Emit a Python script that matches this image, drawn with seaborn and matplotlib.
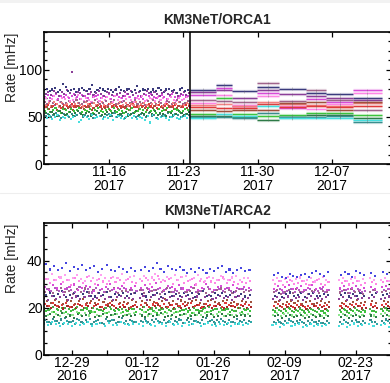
import numpy as np
import pandas as pd
import matplotlib
matplotlib.use("Agg")
import matplotlib.pyplot as plt
import matplotlib.dates as mdates
from matplotlib.ticker import FixedLocator, MultipleLocator
from matplotlib.patches import Rectangle
from matplotlib.lines import Line2D
import seaborn as sns

# ------------------------------------------------------------------ data
COLORS = {
    "navy": "#3b3b7d", "purple": "#8b3f98", "magenta": "#d84bd8", "pink": "#ff85e6",
    "mauve": "#a0648c", "salmon": "#f28282", "red": "#e03a3a", "brown": "#a0503c",
    "green": "#3cc43c", "dkgreen": "#2d7a46", "teal": "#3a8c8c", "cyan": "#46dede",
    "blue": "#4646e0", "ltpink": "#ffa0f0", "violet": "#b05cc0", "dkred": "#a82828",
    "ltgreen": "#8ee68e", "olive": "#4aa84a", "dkcyan": "#2fa8a8",
}

# ---- KM3NeT/ORCA1: scatter period
ORCA_START = "2017-11-09 22:00"
ORCA_END = "2017-11-23 10:00"
ORCA_NAVY = [78,80,77,79,81,76,78,85,82,77, 78,80,76,79,81,78,77,80,84,76, 78,81,79,77,80,78,76,79,82,78,
             77,79,80,76,78,83,77,79,78,80, 76,79,77,81,78,76,79,80,77,78, 75,79,81,77,78]
ORCA_PURPLE = [74,76,73,77,75,72,76,74,78,75, 98,73,76,75,72,77,74,76,73,75, 77,74,72,76,75,73,78,74,75,72,
               76,74,77,73,75,76,72,74,77,75, 73,76,74,72,75,77,74,73,76,75, 72,74,76,73,75]
ORCA_MAGENTA = [71,73,70,72,74,69,72,71,73,70, 72,74,71,69,73,72,70,74,71,72, 73,70,72,71,74,69,72,73,71,70,
                72,74,71,73,70,72,71,69,73,72, 74,71,70,72,73,71,69,72,74,71, 70,72,73,71,72]
ORCA_PINK = [70,67,69,72,68,66,70,69,71,67, 68,70,73,69,67,70,68,66,71,69, 67,70,68,71,69,66,72,68,70,67,
             69,71,68,66,70,69,72,67,68,70, 69,67,71,68,70,66,69,71,68,67, 70,68,69,71,67]
ORCA_MAUVE = [66,64,67,65,63,68,66,64,65,67, 63,66,68,65,64,66,67,63,65,68, 66,64,65,67,63,66,68,64,65,66,
              67,63,65,66,68,64,66,65,63,67, 65,68,64,66,65,63,67,66,64,65, 68,66,64,65,67]
ORCA_SALMON = [63,65,62,66,64,61,65,63,64,66, 62,64,65,63,61,66,64,62,65,63, 64,66,63,61,64,65,62,64,66,63,
               65,62,64,63,66,61,64,65,63,62, 64,66,63,65,62,64,63,61,65,64, 66,62,63,65,64]
ORCA_RED = [61,63,60,62,64,61,59,63,62,60, 64,61,62,63,60,62,61,64,59,62, 63,61,60,62,64,61,63,60,62,61,
            59,63,62,64,60,61,63,62,60,64, 61,62,59,63,61,62,64,60,61,63, 62,60,61,63,62]
ORCA_BROWN = [60,58,61,59,57,62,60,58,59,61, 57,60,62,59,58,60,61,57,59,62, 60,58,59,61,57,60,62,58,59,60,
              61,57,59,60,62,58,60,59,57,61, 59,62,58,60,59,57,61,60,58,59, 62,60,58,59,61]
ORCA_GREEN = [56,58,55,57,59,56,54,58,57,55, 58,56,57,59,55,57,56,58,54,57, 59,56,55,57,58,56,59,55,57,56,
              54,58,57,59,55,56,58,57,55,59, 56,57,54,58,56,57,59,55,56,58, 57,55,56,58,57]
ORCA_DKGREEN = [54,52,55,53,51,56,54,52,53,55, 51,54,56,53,52,54,55,51,53,56, 54,52,53,55,51,54,56,52,53,54,
                55,51,53,54,56,52,54,53,51,55, 53,56,52,54,53,51,55,54,52,53, 56,54,52,53,55]
ORCA_TEAL = [51,53,50,52,54,51,49,53,52,50, 53,51,52,54,50,52,51,53,49,52, 54,51,50,52,53,51,54,50,52,51,
             49,53,52,54,50,51,53,52,50,54, 51,52,49,53,51,52,54,50,51,53, 52,50,51,53,52]
ORCA_CYAN = [49,51,48,50,52,47,50,49,51,48, 50,52,45,47,51,50,48,52,49,50, 51,48,50,49,52,47,50,51,49,48,
             50,52,49,51,48,50,49,47,51,44, 52,49,48,50,51,49,47,50,52,49, 48,50,51,49,50]
# sampling phase of each ORCA series (hours)
ORCA_PHASE_H = [0, 3, 1.5, 4.5, 0.5, 3.5, 2, 5, 1, 4, 2.5, 5.5]

# ---- KM3NeT/ORCA1: block-averaged period (one value per block)
ORCA_BLOCK_EDGES = ["2017-11-23 15:00", "2017-11-26 02:00", "2017-11-27 14:00", "2017-11-29 22:00",
                    "2017-12-02 00:00", "2017-12-04 14:00", "2017-12-06 12:00", "2017-12-09 00:00",
                    "2017-12-11 17:00"]
BLK_NAVY = [79, 84, 77, 82, 80, 75, 74, 70.5]
BLK_PURPLE = [76, 79, 70, 79, 74, 72, 70.5, 68]
BLK_MAGENTA = [73, 81, 61, 75, 59, 69, 66, 78.5]
BLK_PINK = [65, 73, 63, 72, 62, 58.5, 63.5, 75]
BLK_MAUVE = [68, 67, 66, 86, 67, 78, 68, 57]
BLK_SALMON = [63, 64, 62, 66, 64, 63, 62, 64.5]
BLK_RED = [60, 59, 59, 64, 60, 61, 60, 61]
BLK_BROWN = [57, 56, 57, 57, 65, 65.5, 57, 66]
BLK_GREEN = [53, 70, 53, 50.5, 52, 54, 54, 52]
BLK_DKGREEN = [51, 51, 50, 47, 50, 51.5, 51.5, 49]
BLK_TEAL = [50, 50, 48.5, 54, 49.5, 50, 50.5, 45]
BLK_CYAN = [48.5, 53, 51, 61, 48.5, 49, 49, 47]
ORCA_SPLIT = "2017-11-23 15:00"

# ---- KM3NeT/ARCA2: data-taking runs
ARCA_RUN_START = ["2016-12-23 20:00", "2017-01-11 18:00", "2017-02-02 02:00", "2017-02-07 00:00",
                  "2017-02-20 02:00", "2017-02-26 02:00", "2017-02-28 08:00"]
ARCA_RUN_END = ["2017-01-10 12:00", "2017-02-01 04:00", "2017-02-02 02:00", "2017-02-17 12:00",
                "2017-02-24 16:00", "2017-02-26 22:00", "2017-03-01 22:00"]
ARCA_RUN_POINTS = [23, 28, 1, 15, 7, 2, 3]

ARCA_BLUE = [38.5,36.2,37.8,35.9,36.8,38.9,35.4,37.1,36.3,38.2,35.8,36.9,37.5,35.2,36.6,38.1,36.0,35.5,37.3,36.4,35.1,36.8,35.7,
             36.1,37.4,35.6,36.9,38.8,36.3,35.2,37.7,36.5,35.9,37.2,36.0,34.8,36.6,35.3,37.0,35.8,34.9,36.4,35.5,36.9,37.6,35.1,36.2,34.7,35.9,37.0,35.4,
             36.0, 33.8,34.9,33.2,32.6,34.1,33.5,32.9,33.7,34.4,33.0,34.8,35.6,34.2,33.4,35.1,
             33.9,35.0,34.3,33.1,35.4,34.6,33.7, 34.8,33.5, 35.2,34.1,33.6]
ARCA_LTPINK = [33.1,32.0,34.2,31.6,32.8,33.7,31.9,32.5,34.0,32.2,31.4,33.3,32.7,31.8,33.9,32.4,31.5,33.0,32.6,34.1,31.7,32.9,33.4,
               32.3,33.6,31.9,32.8,34.3,32.0,31.6,33.2,32.5,33.8,31.7,32.9,33.5,31.8,32.4,34.0,32.1,31.5,33.1,32.7,31.9,33.4,32.2,31.6,32.8,33.3,31.8,32.5,
               32.6, 31.9,32.7,31.2,32.3,33.0,31.5,32.1,32.8,31.4,31.8,32.5,31.1,32.2,32.9,31.6,
               31.7,32.6,31.3,32.0,32.8,31.5,32.2, 32.4,31.6, 31.9,32.7,31.4]
ARCA_PINK = [32.1,30.4,31.6,33.0,30.9,31.8,29.7,32.4,31.2,30.6,33.2,31.5,30.1,32.0,31.1,29.9,32.6,30.8,31.7,30.3,32.2,31.0,30.5,
             31.3,32.7,30.2,31.9,33.4,30.7,31.5,32.3,30.0,31.8,32.9,30.6,31.2,32.0,29.8,31.4,30.9,32.5,31.1,30.4,31.7,32.8,30.3,31.6,30.8,29.9,31.0,30.5,
             31.2, 30.1,31.3,29.6,30.7,31.9,29.9,30.5,31.4,30.2,29.4,30.8,31.6,30.0,29.7,30.9,
             30.4,31.5,29.8,30.6,31.2,29.5,30.3, 31.0,29.9, 30.7,31.4,30.1]
ARCA_MAGENTA = [28.9,27.6,29.4,28.1,30.2,27.9,28.6,29.8,27.4,28.3,29.1,28.7,27.2,29.6,28.0,28.8,30.0,27.7,28.4,29.3,27.9,28.5,29.0,
                28.2,29.5,27.8,28.9,30.3,28.4,27.5,29.2,28.6,27.9,29.7,28.1,27.3,28.8,29.4,27.6,28.3,29.9,28.0,27.4,28.7,29.1,27.8,28.5,29.6,28.2,27.7,28.9,
                28.4, 28.0,29.1,27.5,28.6,29.4,27.8,28.2,29.0,27.3,28.5,29.7,27.9,28.3,28.8,27.6,
                28.1,29.2,27.7,28.5,29.0,27.4,28.3, 28.9,27.8, 28.6,29.3,27.9]
ARCA_VIOLET = [27.8,26.9,28.4,27.2,26.6,28.1,27.5,26.8,28.6,27.0,27.7,26.4,28.2,27.3,26.7,28.0,27.6,26.5,27.9,28.3,26.8,27.4,27.1,
               27.6,28.5,26.9,27.3,28.0,26.6,27.8,28.4,26.7,27.2,28.1,26.5,27.5,28.3,26.8,27.0,27.9,28.6,26.6,27.4,27.7,26.9,28.2,27.1,26.7,27.8,28.0,27.3,
               27.5, 27.0,27.7,26.4,27.2,27.9,26.7,27.3,26.5,27.6,28.0,26.8,27.1,27.8,26.6,27.4,
               26.9,27.6,26.3,27.2,27.8,26.6,27.0, 27.5,26.7, 27.3,27.9,26.5]
ARCA_MAUVE = [26.7,27.9,26.2,27.4,28.3,26.5,27.1,25.9,27.7,26.8,28.1,26.4,27.3,26.0,27.8,26.6,27.2,28.4,26.3,27.0,26.9,27.6,26.1,
              27.4,26.3,28.0,26.9,27.5,25.8,27.1,28.2,26.6,27.3,26.1,27.9,26.7,27.0,28.5,26.4,27.2,26.0,27.7,26.8,27.4,28.1,26.5,27.6,26.2,27.0,27.8,26.6,
              27.2, 26.5,27.6,25.9,26.8,27.3,26.2,27.9,26.6,27.1,25.8,26.9,27.5,26.3,27.0,26.7,
              26.4,27.3,26.0,27.7,26.6,27.2,25.9, 26.8,27.4, 26.5,27.0,26.2]
ARCA_NAVY = [25.3,26.4,24.8,25.9,26.9,24.6,25.5,26.2,24.9,25.7,26.6,25.1,24.7,26.0,25.4,26.8,24.5,25.8,25.2,26.3,24.9,25.6,26.1,
             25.8,24.7,26.5,25.2,26.0,24.4,25.6,26.7,25.0,25.9,24.8,26.3,25.4,26.1,24.6,25.7,26.9,25.1,24.8,26.2,25.5,26.0,24.9,25.3,26.6,25.0,25.8,24.7,
             25.5, 25.1,26.2,24.6,25.7,26.4,24.9,25.3,26.0,24.5,25.6,26.3,25.0,24.8,25.9,25.2,
             25.4,26.1,24.7,25.8,25.0,26.3,24.9, 25.5,26.0, 25.2,25.7,24.8]
ARCA_PURPLE = [24.2,23.4,24.9,23.8,24.5,25.2,23.3,24.0,24.7,23.6,24.4,25.0,23.5,24.1,24.8,23.7,24.3,23.2,24.6,25.1,23.9,24.2,23.6,
               24.0,24.8,23.4,24.5,25.3,23.7,24.2,23.1,24.6,24.9,23.5,24.3,25.0,23.8,24.1,24.7,23.3,24.4,25.2,23.6,24.0,24.8,23.9,24.5,23.2,24.3,24.9,23.7,
               24.1, 23.6,24.4,23.1,24.0,24.7,23.4,23.9,24.5,23.2,24.2,24.8,23.5,24.0,23.7,24.3,
               23.8,24.6,23.3,24.1,24.9,23.5,24.2, 23.9,24.4, 23.6,24.1,24.7]
ARCA_BROWN = [22.8,21.9,23.3,22.4,21.7,23.0,22.6,21.5,22.9,23.5,22.1,22.7,21.8,23.2,22.3,21.6,22.8,23.4,22.0,22.5,21.9,23.1,22.4,
              22.6,21.8,23.2,22.3,21.6,22.9,23.6,22.0,22.7,21.5,23.0,22.4,21.9,22.8,23.3,22.1,21.7,22.6,23.1,22.2,21.8,22.9,23.4,22.0,22.5,21.6,22.8,22.3,
              22.5, 22.2,22.9,21.6,22.4,23.0,21.9,22.6,21.7,22.3,22.8,21.5,22.1,22.7,21.8,22.4,
              22.0,22.8,21.7,22.5,23.1,21.9,22.3, 22.6,21.8, 22.9,22.2,21.6]
ARCA_RED = [21.4,20.6,21.9,20.8,21.2,22.1,20.4,21.0,21.7,20.5,21.3,21.8,20.7,21.5,20.3,21.1,21.9,20.6,21.4,20.9,21.6,20.2,21.2,
            21.0,21.8,20.4,21.3,22.0,20.7,21.5,20.2,21.1,21.7,20.5,21.4,20.9,21.9,20.6,21.2,20.3,21.6,21.0,20.8,21.5,20.4,21.8,21.1,20.6,21.3,20.9,21.5,
            21.1, 20.7,21.4,20.2,21.0,21.6,20.4,20.9,21.3,20.1,20.8,21.5,20.5,21.2,20.6,21.0,
            20.7,21.4,20.3,21.1,21.7,20.5,20.9, 21.3,20.6, 21.0,21.5,20.4]
ARCA_DKRED = [20.5,19.8,21.0,20.2,19.6,20.8,20.4,19.9,21.2,20.0,20.6,19.7,20.9,20.3,19.5,20.7,21.1,19.8,20.4,20.1,19.6,20.8,20.2,
              20.3,21.0,19.7,20.5,20.9,19.9,20.2,21.1,19.6,20.6,20.0,20.8,19.8,20.4,21.2,19.7,20.3,20.7,19.9,20.5,21.0,19.6,20.1,20.8,20.3,19.8,20.6,20.0,
              20.4, 19.9,20.6,19.4,20.2,20.8,19.6,20.1,20.7,19.3,20.0,20.5,19.7,20.3,19.5,20.2,
              19.8,20.5,19.3,20.1,20.7,19.6,20.0, 20.4,19.7, 20.2,20.8,19.5]
ARCA_OLIVE = [19.6,18.9,20.1,19.3,18.7,19.9,19.5,18.8,20.2,19.1,19.7,18.6,20.0,19.4,18.9,19.8,20.3,19.0,19.5,19.2,18.8,19.9,19.3,
              19.4,20.1,18.8,19.6,20.0,18.9,19.2,19.8,18.7,19.5,20.2,19.0,19.3,18.8,19.9,19.1,18.7,19.7,20.3,18.9,19.4,20.0,18.8,19.5,19.1,18.6,19.7,19.2,
              19.4, 19.0,19.7,18.4,19.2,19.8,18.7,19.1,19.6,18.3,18.9,19.5,18.6,19.3,18.5,19.1,
              18.8,19.5,18.3,19.1,19.7,18.6,19.0, 19.4,18.7, 19.2,19.8,18.5]
ARCA_GREEN = [18.6,19.4,17.9,18.8,19.7,18.1,18.5,19.2,17.8,18.9,19.6,18.3,18.0,19.1,18.7,17.7,19.3,18.4,19.0,17.9,18.6,19.5,18.2,
              18.9,18.0,19.3,18.5,17.8,19.6,18.2,18.8,19.4,17.9,18.6,19.1,18.3,17.7,19.0,18.7,19.5,18.1,18.4,19.2,17.9,18.8,19.3,18.0,18.5,19.7,18.2,18.9,
              18.6, 18.3,19.0,17.7,18.5,19.2,17.9,18.4,18.9,17.6,18.2,19.1,18.0,18.7,17.8,18.5,
              18.1,18.8,17.6,18.4,19.0,17.9,18.3, 18.7,18.0, 18.5,19.1,17.8]
ARCA_LTGREEN = [17.4,16.7,18.0,17.1,16.5,17.8,17.2,16.8,18.1,16.9,17.5,16.6,17.9,17.0,16.4,17.7,18.2,16.8,17.3,17.6,16.7,17.1,17.8,
                17.2,17.9,16.6,17.4,18.0,16.8,17.1,17.7,16.5,17.5,18.1,16.9,17.3,16.6,17.8,17.0,16.7,17.6,18.2,16.8,17.2,17.9,16.5,17.4,17.0,16.7,17.6,17.1,
                17.3, 16.9,17.6,16.3,17.1,17.7,16.6,17.0,17.5,16.2,16.8,17.4,16.5,17.2,16.4,17.0,
                16.7,17.4,16.2,17.0,17.6,16.5,16.9, 17.3,16.6, 17.1,17.7,16.4]
ARCA_DKGREEN = [16.4,17.3,15.8,16.9,17.5,16.1,16.6,15.7,17.1,16.3,16.8,17.6,15.9,16.5,17.2,16.0,16.7,17.4,15.8,16.4,17.0,16.2,16.8,
                16.6,15.9,17.2,16.3,16.9,17.5,15.8,16.5,17.0,16.1,16.7,17.3,15.7,16.4,16.9,17.6,16.0,16.6,17.1,15.9,16.5,17.4,16.2,16.8,15.8,16.3,17.0,16.6,
                16.5, 16.2,16.9,15.6,16.4,17.0,15.8,16.3,16.8,15.5,16.1,16.7,15.9,16.6,15.7,16.3,
                16.0,16.7,15.6,16.3,16.9,15.8,16.2, 16.6,15.9, 16.4,17.0,15.7]
ARCA_TEAL = [14.6,13.8,15.2,14.1,14.9,15.5,13.7,14.4,15.0,13.9,14.7,15.3,14.0,14.5,13.6,15.1,14.3,14.8,13.9,15.4,14.2,14.6,13.8,
             14.4,15.1,13.7,14.8,15.3,14.0,14.6,13.8,15.0,14.3,14.9,13.6,14.5,15.2,14.1,13.9,14.7,15.4,14.2,13.7,14.8,15.0,14.0,14.5,13.8,15.1,14.3,14.6,
             14.4, 14.0,14.7,13.5,14.3,14.9,13.7,14.2,14.8,13.4,14.1,14.6,13.8,14.4,13.6,14.2,
             13.9,14.6,13.4,14.2,14.8,13.7,14.1, 14.5,13.8, 14.3,14.9,13.6]
ARCA_DKCYAN = [13.9,13.2,14.4,13.6,13.0,14.2,13.7,13.1,14.5,13.4,14.0,12.9,14.3,13.5,13.0,14.1,14.6,13.3,13.8,13.6,13.1,14.2,13.7,
               13.8,14.4,13.1,13.9,14.3,13.2,13.6,14.1,13.0,13.9,14.5,13.3,13.7,13.1,14.2,13.4,13.0,14.0,14.6,13.2,13.8,14.3,13.1,13.9,13.5,12.9,14.0,13.6,
               13.7, 13.3,14.0,12.8,13.5,14.1,13.0,13.4,13.9,12.7,13.2,13.8,12.9,13.6,12.8,13.4,
               13.1,13.8,12.7,13.4,14.0,12.9,13.3, 13.7,13.0, 13.5,14.1,12.8]
ARCA_CYAN = [13.2,12.4,13.7,12.8,12.1,13.4,12.9,12.2,13.6,12.6,13.1,13.9,12.3,12.8,13.5,12.0,13.3,12.7,12.4,13.8,12.9,12.5,13.2,
             12.9,12.2,13.6,12.7,12.0,13.3,12.8,12.3,13.8,12.5,13.0,12.1,13.4,12.6,12.9,13.7,12.2,12.8,13.5,12.4,12.0,13.1,12.7,13.6,12.3,12.9,13.2,12.5,
             12.8, 12.4,13.1,11.9,12.6,13.3,12.1,12.5,13.0,11.8,12.3,12.9,12.0,12.7,12.2,12.6,
             12.3,13.0,11.8,12.5,13.2,12.0,12.4, 12.8,12.1, 12.6,13.1,11.9]
# sampling phase of each ARCA series (hours)
ARCA_PHASE_H = [0, -6, 4, -2, 7, -4, 2, -8, 5, -1, 8, -5, 3, -7, 1, -3, 6, -9]

# axis / tick settings
ORCA_XLIM = ["2017-11-09 21:00", "2017-12-12 14:00"]
ORCA_XTICKS = ["2017-11-16", "2017-11-23", "2017-11-30", "2017-12-07"]
ARCA_XLIM = ["2016-12-23 13:00", "2017-03-02 00:00"]
ARCA_XTICKS = ["2016-12-29", "2017-01-12", "2017-01-26", "2017-02-09", "2017-02-23"]
ARCA_XMINOR = ["2017-01-05", "2017-01-19", "2017-02-02", "2017-02-16", "2017-03-02"]

# ------------------------------------------------------------------ style
sns.set_style("ticks")
plt.rcParams["font.family"] = ["Liberation Sans", "DejaVu Sans"]
plt.rcParams["font.size"] = 10

fig = plt.figure(figsize=(3.9, 3.83), dpi=100)
W, H = 390.0, 383.0
ax1 = fig.add_axes([44 / W, (H - 164) / H, 347 / W, 132 / H])
ax2 = fig.add_axes([44 / W, (H - 354.5) / H, 347 / W, 131.5 / H])

fig.add_artist(Rectangle((0, 1 - 3 / H), 1, 3 / H, transform=fig.transFigure,
                         color="#f2f2f2", lw=0, zorder=-5))
fig.add_artist(Line2D([0, 1], [1 - 193 / H] * 2, transform=fig.transFigure,
                      color="#eeeeee", lw=0.8, zorder=-5))


def long_frame(times, series, phases):
    parts = []
    for (name, vals), ph in zip(series.items(), phases):
        n = min(len(vals), len(times))
        tt = times[:n] + pd.Timedelta(hours=ph)
        parts.append(pd.DataFrame({"t": tt, "rate": vals[:n], "series": name}))
    df = pd.concat(parts, ignore_index=True)
    return df.sort_values("t", kind="stable")


# ---- ORCA1 ----
orca_series = {"navy": ORCA_NAVY, "purple": ORCA_PURPLE, "magenta": ORCA_MAGENTA, "pink": ORCA_PINK,
               "mauve": ORCA_MAUVE, "salmon": ORCA_SALMON, "red": ORCA_RED, "brown": ORCA_BROWN,
               "green": ORCA_GREEN, "dkgreen": ORCA_DKGREEN, "teal": ORCA_TEAL, "cyan": ORCA_CYAN}
n_orca = max(len(v) for v in orca_series.values())
orca_t = pd.date_range(ORCA_START, ORCA_END, periods=n_orca)
df1 = long_frame(orca_t, orca_series, ORCA_PHASE_H)
sns.scatterplot(data=df1, x="t", y="rate", hue="series", palette=COLORS, marker="s", s=2.2,
                linewidth=0, legend=False, ax=ax1)

orca_blocks = {"navy": BLK_NAVY, "purple": BLK_PURPLE, "magenta": BLK_MAGENTA, "pink": BLK_PINK,
               "mauve": BLK_MAUVE, "salmon": BLK_SALMON, "red": BLK_RED, "brown": BLK_BROWN,
               "green": BLK_GREEN, "dkgreen": BLK_DKGREEN, "teal": BLK_TEAL, "cyan": BLK_CYAN}
edges = mdates.date2num(pd.to_datetime(ORCA_BLOCK_EDGES))
for name, vals in orca_blocks.items():
    c = COLORS[name]
    for i, v in enumerate(vals):
        x0, x1 = edges[i], edges[i + 1]
        xm = 0.5 * (x0 + x1)
        ax1.hlines(v, x0, x1, color=c, lw=2.4, alpha=0.22)
        ax1.hlines(v, x0, x1, color=c, lw=0.9)
        ax1.vlines(xm, v - 1.4, v + 1.4, color="#666666", lw=0.4, alpha=0.6)
ax1.axvline(mdates.date2num(pd.Timestamp(ORCA_SPLIT)), color="black", lw=1.1)

ax1.set_ylim(0, 140)
ax1.set_xlim(mdates.date2num(pd.to_datetime(ORCA_XLIM)))
ax1.yaxis.set_major_locator(FixedLocator([0, 50, 100]))
ax1.yaxis.set_minor_locator(MultipleLocator(10))
ax1.xaxis.set_major_locator(FixedLocator(mdates.date2num(pd.to_datetime(ORCA_XTICKS))))
ax1.xaxis.set_minor_locator(FixedLocator([]))
ax1.set_title("KM3NeT/ORCA1", fontweight="bold", fontsize=10, pad=6)

# ---- ARCA2 ----
arca_series = {"blue": ARCA_BLUE, "ltpink": ARCA_LTPINK, "pink": ARCA_PINK, "magenta": ARCA_MAGENTA,
               "violet": ARCA_VIOLET, "mauve": ARCA_MAUVE, "navy": ARCA_NAVY, "purple": ARCA_PURPLE,
               "brown": ARCA_BROWN, "red": ARCA_RED, "dkred": ARCA_DKRED, "olive": ARCA_OLIVE,
               "green": ARCA_GREEN, "ltgreen": ARCA_LTGREEN, "dkgreen": ARCA_DKGREEN,
               "teal": ARCA_TEAL, "dkcyan": ARCA_DKCYAN, "cyan": ARCA_CYAN}
arca_t = pd.DatetimeIndex(np.concatenate([
    pd.date_range(s, e, periods=n).values
    for s, e, n in zip(ARCA_RUN_START, ARCA_RUN_END, ARCA_RUN_POINTS)]))
df2 = long_frame(arca_t, arca_series, ARCA_PHASE_H)
sns.scatterplot(data=df2, x="t", y="rate", hue="series", palette=COLORS, marker="s", s=2.2,
                linewidth=0, legend=False, ax=ax2)
ax2.set_ylim(0, 56)
ax2.set_xlim(mdates.date2num(pd.to_datetime(ARCA_XLIM)))
ax2.yaxis.set_major_locator(FixedLocator([0, 20, 40]))
ax2.yaxis.set_minor_locator(MultipleLocator(5))
ax2.xaxis.set_major_locator(FixedLocator(mdates.date2num(pd.to_datetime(ARCA_XTICKS))))
ax2.xaxis.set_minor_locator(FixedLocator(mdates.date2num(pd.to_datetime(ARCA_XMINOR))))
ax2.set_title("KM3NeT/ARCA2", fontweight="bold", fontsize=10, pad=6)

for ax in (ax1, ax2):
    ax.xaxis.set_major_formatter(mdates.DateFormatter("%m-%d\n%Y"))
    ax.set_xlabel("")
    ax.set_ylabel("Rate [mHz]", fontsize=10)
    ax.yaxis.set_label_coords(-0.072, 0.735)
    for sp in ax.spines.values():
        sp.set_linewidth(1.2)
        sp.set_color("black")
    ax.tick_params(which="both", direction="in", top=True, right=True, width=0.9,
                   colors="black", labelsize=10)
    ax.tick_params(which="major", length=3.8)
    ax.tick_params(which="minor", length=2.2)
    ax.tick_params(axis="x", pad=1.0)
    ax.tick_params(axis="y", pad=1.0)
ax2.tick_params(axis="x", which="minor", length=3.8)

fig.canvas.draw()
for ax in (ax1, ax2):
    for t in ax.xaxis.get_major_ticks():
        t.label1.set_linespacing(0.95)

fig.savefig("out.png", dpi=100)
